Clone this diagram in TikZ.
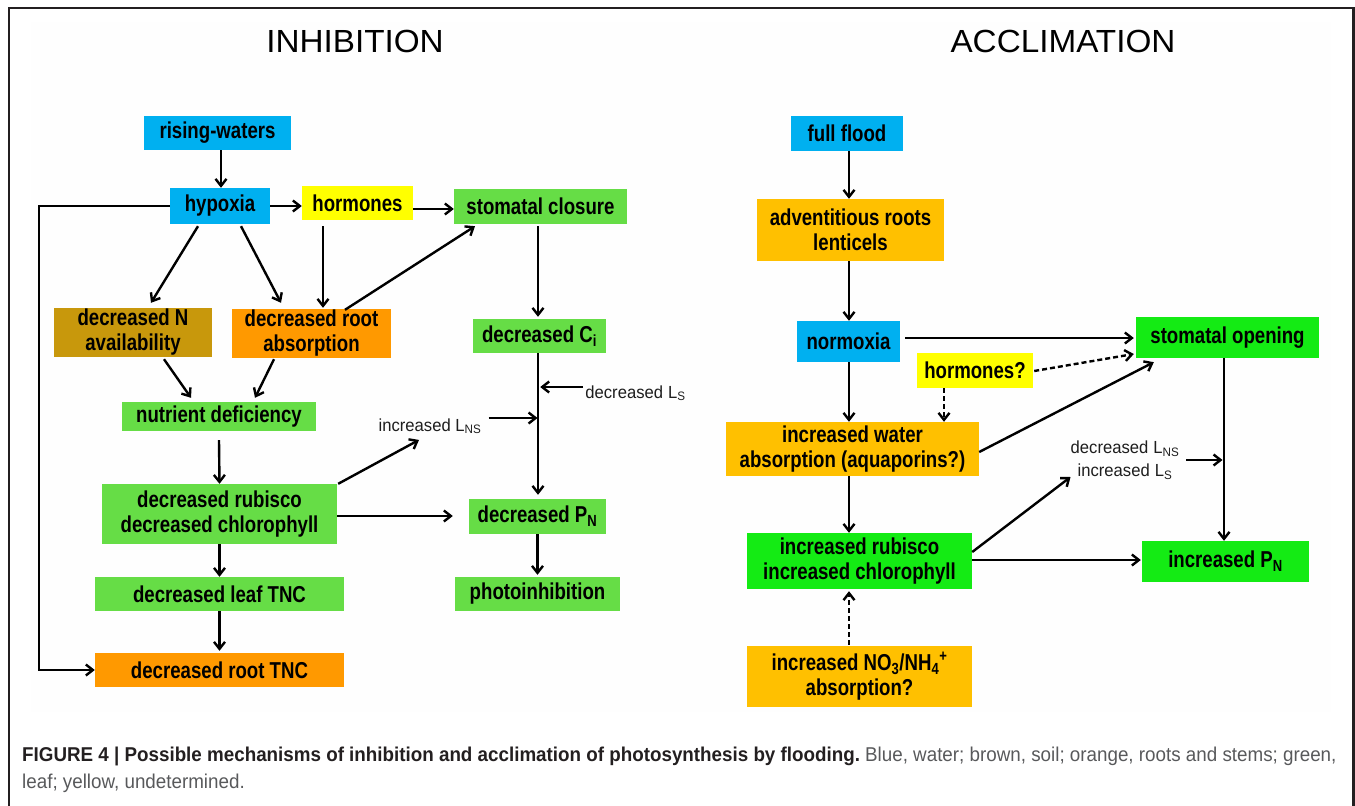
\documentclass[tikz,border=0pt]{standalone}
\usepackage{fontspec}
\setmainfont{Liberation Sans}
\newfontfamily\bxfam[FakeStretch=0.81]{Liberation Sans}
\newfontfamily\ttlfam[FakeStretch=1.04]{Liberation Sans}
\newfontfamily\capfam[FakeStretch=0.94]{Liberation Sans}
\newfontfamily\lblfam[FakeStretch=0.95]{Liberation Sans}
\usetikzlibrary{arrows.meta,calc}
\definecolor{cblue}{RGB}{0,176,240}
\definecolor{cyel}{RGB}{255,255,0}
\definecolor{cgreenL}{RGB}{102,221,70}
\definecolor{cgreenR}{RGB}{20,235,20}
\definecolor{cbrown}{RGB}{200,152,12}
\definecolor{corange}{RGB}{255,153,0}
\definecolor{cgold}{RGB}{255,192,0}
\definecolor{capblack}{RGB}{35,31,32}
\definecolor{capgray}{RGB}{88,89,91}
\definecolor{lblgray}{RGB}{30,30,30}
\definecolor{panelc}{RGB}{254,254,254}
\newcommand\myboxfont{\bxfam\bfseries\fontsize{23}{25}\selectfont}
\newcommand\mylblfont{\lblfam\fontsize{17.5}{23}\selectfont}
\tikzset{
  bx/.style={inner sep=0pt, align=center, font=\myboxfont, text=black},
  lbl/.style={inner sep=1pt, align=center, font=\mylblfont, text=lblgray},
  ttl/.style={inner sep=0pt, font=\ttlfam\fontsize{32}{36}\selectfont, text=black},
  arr/.style={line width=2.4pt, draw=black, -{Straight Barb[length=7pt,width=11pt]}},
  darr/.style={arr, dash pattern=on 5pt off 3pt},
}
\begin{document}
\begin{tikzpicture}[x=1pt,y=-1pt]
\useasboundingbox (0,0) rectangle (1355,806);
\fill[panelc] (31,22) rectangle (1331,712);
\draw[line width=2.5pt, capblack] (9,806) -- (9,8) -- (1353.5,8) -- (1353.5,806);

% titles
\node[ttl] (t1) at (355,41) {INHIBITION};
\node[ttl] (t2) at (1063,41) {ACCLIMATION};

% ---------- inhibition ----------
\node[bx, fill=cblue, minimum width=147pt, minimum height=34pt] (rw) at (217.5,133) {rising-waters};
\node[bx, fill=cblue, minimum width=100pt, minimum height=36pt] (hyp) at (220,206) {hypoxia};
\node[bx, fill=cyel, minimum width=111pt, minimum height=34pt] (hor) at (357.5,203) {hormones};
\node[bx, fill=cgreenL, minimum width=173pt, minimum height=35pt] (sc) at (540.5,206.5) {stomatal closure};
\node[bx, fill=cbrown, minimum width=158pt, minimum height=49pt] (dn) at (133,332.5) {decreased N\\availability};
\node[bx, fill=corange, minimum width=159pt, minimum height=49pt] (dra) at (311.5,333.5) {decreased root\\absorption};
\node[bx, fill=cgreenL, minimum width=133pt, minimum height=34pt] (dci) at (539.5,336) {decreased C\textsubscript{i}};
\node[bx, fill=cgreenL, minimum width=194pt, minimum height=29pt] (nd) at (219,416.5) {nutrient deficiency};
\node[bx, fill=cgreenL, minimum width=235pt, minimum height=60pt] (drc) at (219.5,514) {decreased rubisco\\decreased chlorophyll};
\node[bx, fill=cgreenL, minimum width=249pt, minimum height=34pt] (dlt) at (219.5,594) {decreased leaf TNC};
\node[bx, fill=corange, minimum width=249pt, minimum height=34pt] (drt) at (219.5,670) {decreased root TNC};
\node[bx, fill=cgreenL, minimum width=137pt, minimum height=35pt] (dpn) at (537.5,516.5) {decreased P\textsubscript{N}};
\node[bx, fill=cgreenL, minimum width=165pt, minimum height=34pt] (pi) at (537.5,594) {photoinhibition};
\node[lbl, anchor=base] (lns) at (430,431) {increased L\textsubscript{NS}};
\node[lbl, anchor=base] (dls) at (635.5,398) {decreased\hspace{5pt}L\textsubscript{S}};

\draw[arr] ($(rw.south)+(3.5,0)$) -- ($(hyp.north)+(1,0)$);
\draw[arr] (hyp.east) -- (hyp.east -| hor.west);
\draw[arr] ($(hor.east)+(0,6)$) -- ($(sc.west)+(0,2.5)$);
\draw[arr] ($(hyp.south)+(-22,2)$) -- ($(dn.north)+(18,-5)$);
\draw[arr] ($(hyp.south)+(21,2)$) -- ($(dra.north)+(-30.5,-6)$);
\draw[arr] ($(hor.south)+(-34.5,6)$) -- ($(dra.north)+(11.5,-1)$);
\draw[arr] ($(dra.north)+(33.5,1)$) -- ($(sc.south)+(-65.5,2)$);
\draw[arr] ($(sc.south)+(-2.5,2)$) -- ($(dci.north)+(-1.5,-2)$);
\draw[arr] ($(dn.south)+(31,2)$) -- ($(nd.north)+(-28,-4)$);
\draw[arr] ($(dra.south)+(-37.5,1)$) -- ($(nd.north)+(36,-4)$);
\draw[arr] ($(nd.south)+(0,9)$) -- (drc.north);
\draw[arr] (drc.south) -- (dlt.north);
\draw[arr] (dlt.south) -- ($(drt.north)+(0,-2)$);
\draw[arr] (hyp.west) -- ++(-131,0) |- (drt.west);
\draw[arr] ($(drc.north east)+(1,0)$) -- ($(lns.south)+(-11,5)$);
\draw[arr] ($(lns.east)+(6,-8)$) -- ($(lns.east)+(55,-8)$);
\draw[arr] ($(dls.west)+(-1,-6)$) -- ($(dls.west)+(-44,-6)$);
\draw[arr] ($(dci.south)+(-1.5,0)$) -- ($(dpn.north)+(0.5,-4)$);
\draw[arr] ($(drc.east)+(0,2)$) -- ($(dpn.west)+(-16,-0.5)$);
\draw[arr] (dpn.south) -- ($(pi.north)+(0,-2)$);

% ---------- acclimation ----------
\node[bx, fill=cblue, minimum width=112pt, minimum height=35pt] (ff) at (847,133.5) {full flood};
\node[bx, fill=cgold, minimum width=187pt, minimum height=62pt] (adv) at (850.5,230) {adventitious roots\\lenticels};
\node[bx, fill=cblue, minimum width=103pt, minimum height=41pt] (nor) at (848.5,341.5) {normoxia};
\node[bx, fill=cgreenR, minimum width=183pt, minimum height=41pt] (so) at (1227.5,337.5) {stomatal opening};
\node[bx, fill=cyel, minimum width=116pt, minimum height=35pt] (hq) at (975,370.5) {hormones?};
\node[bx, fill=cgold, minimum width=253pt, minimum height=54pt] (iwa) at (852.5,449) {increased water\\absorption (aquaporins?)};
\node[bx, fill=cgreenR, minimum width=225pt, minimum height=56pt] (irc) at (859.5,561) {increased rubisco\\increased chlorophyll};
\node[bx, fill=cgreenR, minimum width=167pt, minimum height=41pt] (ipn) at (1225.5,561.5) {increased P\textsubscript{N}};
\node[bx, fill=cgold, minimum width=225pt, minimum height=61pt] (ino) at (859.5,676.5) {increased NO\textsubscript{3}/NH\textsubscript{4}\textsuperscript{+}\\absorption?};
\node[lbl] (lx) at (1125,460) {decreased\hspace{5pt}L\textsubscript{NS}\\increased\hspace{5pt}L\textsubscript{S}};

\draw[arr] ($(ff.south)+(2,0)$) -- ($(adv.north)+(-1.5,0)$);
\draw[arr] ($(adv.south)+(-1.5,0)$) -- ($(nor.north)+(0.5,0)$);
\draw[arr] ($(nor.east)+(5,-3.5)$) -- ($(so.west)+(-2,0.5)$);
\draw[darr] ($(hq.east)+(1,0.5)$) -- ($(so.west)+(-2,16.5)$);
\draw[darr] ($(hq.south)+(-31,0)$) -- ($(iwa.north)+(91.5,0)$);
\draw[arr] ($(nor.south)+(0.5,0)$) -- ($(iwa.north)+(-3.5,0)$);
\draw[arr] ($(iwa.east)+(0,3)$) -- ($(so.south west)+(18,4)$);
\draw[arr] ($(iwa.south)+(-3.5,0)$) -- ($(irc.north)+(-10.5,0)$);
\draw[arr] ($(irc.east)+(0,-9)$) -- ($(lx.west)+(1,17)$);
\draw[arr] ($(lx.east)+(6,0)$) -- ($(so.south |- lx.east)+(-5,0)$);
\draw[arr] ($(so.south)+(-3.5,0)$) -- ($(ipn.north)+(-1.5,0)$);
\draw[arr] ($(irc.east)+(0,-1)$) -- ($(ipn.west)+(-1,-1.5)$);
\draw[darr] ($(ino.north)+(-10.5,-1)$) -- ($(irc.south)+(-10.5,2)$);

% ---------- caption ----------
\node[anchor=base west, inner sep=0pt, font=\capfam\fontsize{20}{27}\selectfont, text=capblack] (cap1) at (22,761)
  {\bfseries FIGURE 4 | Possible mechanisms of inhibition and acclimation of photosynthesis by flooding.\ \mdseries\color{capgray}Blue, water; brown, soil; orange, roots and stems; green,};
\node[anchor=base west, inner sep=0pt, font=\capfam\fontsize{20}{27}\selectfont, text=capgray] (cap2) at (22,788)
  {leaf; yellow, undetermined.};
\end{tikzpicture}
\end{document}
